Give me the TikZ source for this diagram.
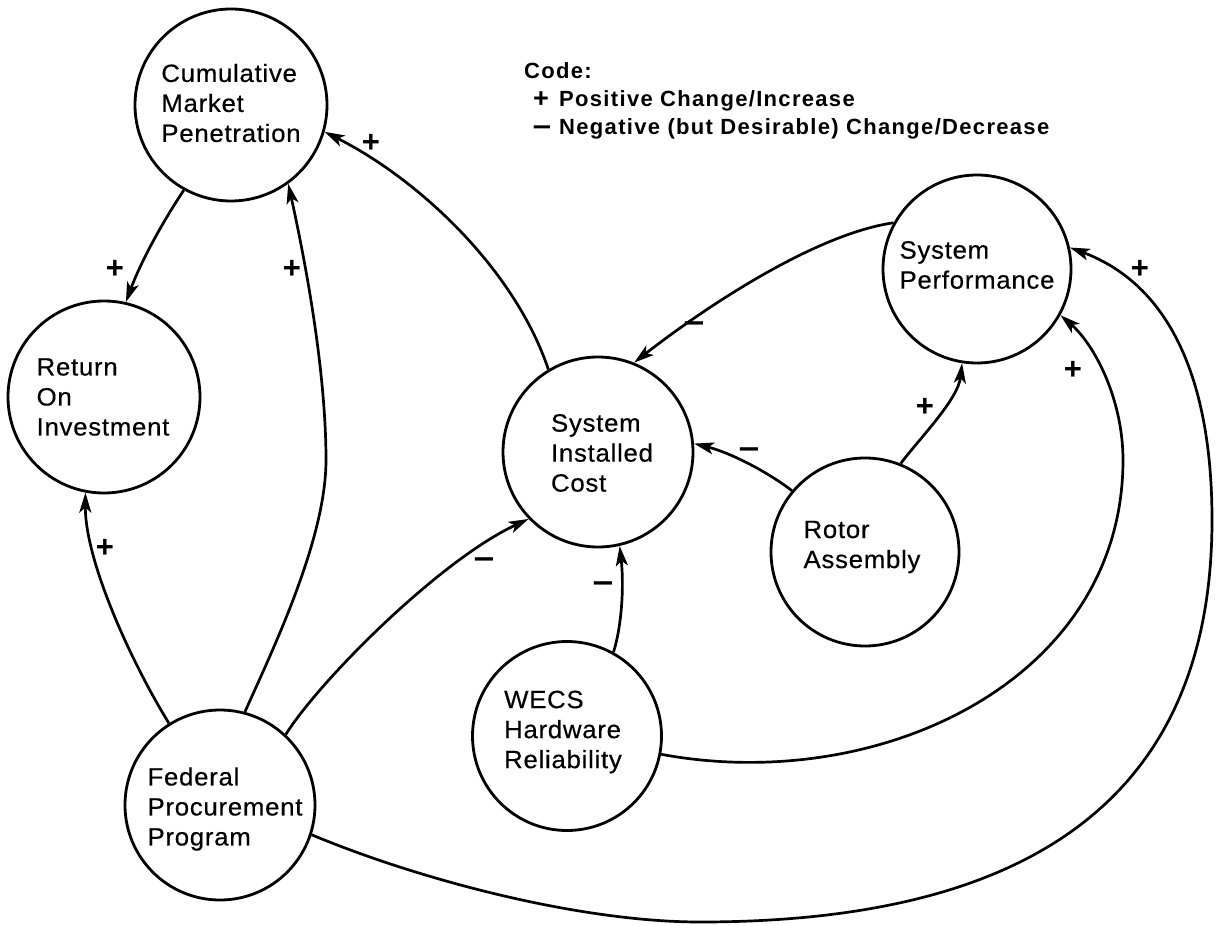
\documentclass[tikz,border=0pt]{standalone}
\usepackage{fontspec}
\usetikzlibrary{arrows.meta}
\newfontfamily\nodefont[LetterSpace=3,FakeStretch=1.03,FakeBold=0.4]{Liberation Sans}
\newfontfamily\legfont[LetterSpace=6]{Liberation Sans}
\newfontfamily\signfont{Liberation Sans}
\newfontfamily\symfont{DejaVu Sans}
\begin{document}
\begin{tikzpicture}[x=1pt,y=-1pt,
  circ/.style={draw, circle, line width=2.8pt, inner sep=0pt},
  lbl/.style={font=\nodefont\fontsize{25}{30}\selectfont, align=left, inner sep=0pt},
  conn/.style={line width=2.7pt, -{Stealth[length=20pt,width=12pt,inset=5pt]}},
  plus/.style={font=\signfont\bfseries\fontsize{31}{31}\selectfont, inner sep=0pt, anchor=base},
  minus/.style={font=\symfont\bfseries\fontsize{29}{29}\selectfont, inner sep=0pt, anchor=base},
  leg/.style={font=\legfont\bfseries\fontsize{22}{22}\selectfont, anchor=base west, inner sep=0pt}]
\useasboundingbox (0,0) rectangle (1216,925);
\fill[white] (0,0) rectangle (1216,925);

% circles
\node[circ, minimum size=192pt] (cmp)  at (231,105) {};
\node[circ, minimum size=192pt] (roi)  at (104,397) {};
\node[circ, minimum size=190pt] (sic)  at (598,452) {};
\node[circ, minimum size=188pt] (sp)   at (977,269) {};
\node[circ, minimum size=188pt] (ra)   at (865,552) {};
\node[circ, minimum size=189pt] (wecs) at (567,736) {};
\node[circ, minimum size=190pt] (fpp)  at (220,805) {};

% texts in circles
\node[lbl] (cmp-t)  at (231,103) {Cumulative\\Market\\Penetration};
\node[lbl] (roi-t)  at (103,397) {Return\\On\\Investment};
\node[lbl] (sic-t)  at (602,453) {System\\Installed\\Cost};
\node[lbl] (sp-t)   at (977,265) {System\\Performance};
\node[lbl] (ra-t)   at (862,547) {Rotor\\Assembly};
\node[lbl] (wecs-t) at (563,732) {WECS\\Hardware\\Reliability};
\node[lbl] (fpp-t)  at (225,809) {Federal\\Procurement\\Program};

% legend
\node[leg] (code) at (524,79) {Code:};
\node[plus, font=\signfont\bfseries\fontsize{27}{27}\selectfont] (lp) at (541,108) {+};
\node[minus, font=\symfont\bfseries\fontsize{26}{26}\selectfont] (lm) at (542,136) {−};
\node[leg] (lpt) at (559,107) {Positive Change/Increase};
\node[leg] (lmt) at (559,135) {Negative (but Desirable) Change/Decrease};

% connectors
\draw[conn] (cmp.241) .. controls (160,226) and (140,264) .. (roi.77);
\draw[conn] (fpp.75) .. controls (272,651) and (326,540) .. (326,460)
            .. controls (326,370) and (305,260) .. (cmp.-54);
\draw[conn] (sic.121) .. controls (515,270) and (420,180) .. (cmp.-16);
\draw[conn] (fpp.122) .. controls (130,660) and (85,560) .. (roi.259);
\draw[conn] (fpp.47) .. controls (320,680) and (440,560) .. (sic.224);
\draw[conn] (fpp.-18) .. controls (420,880) and (580,922) .. (700,922)
            .. controls (1000,922) and (1212,820) .. (1212,520)
            .. controls (1212,380) and (1170,285) .. (sp.13);
\draw[conn] (wecs.-11) .. controls (880,795) and (1123,680) .. (1123,460)
            .. controls (1123,400) and (1095,345) .. (sp.-29);
\draw[conn] (ra.68) .. controls (918,440) and (958,400) .. (sp.261);
\draw[conn] (ra.140) .. controls (765,470) and (728,452) .. (sic.5);
\draw[conn] (sp.151) .. controls (810,235) and (695,315) .. (sic.68);
\draw[conn] (wecs.61) .. controls (622,625) and (624,585) .. (sic.-77);

% signs
\node[plus]  (s1)  at (115,279) {+};
\node[plus]  (s2)  at (292,279) {+};
\node[plus]  (s3)  at (371,153) {+};
\node[plus]  (s4)  at (105,557) {+};
\node[minus] (s5)  at (484,568) {−};
\node[minus] (s6)  at (694,333) {−};
\node[minus] (s7)  at (749,458) {−};
\node[plus]  (s8)  at (925,417) {+};
\node[plus]  (s9)  at (1073,380) {+};
\node[plus]  (s10) at (1140,279) {+};
\node[minus] (s11) at (603,592) {−};
\end{tikzpicture}
\end{document}
